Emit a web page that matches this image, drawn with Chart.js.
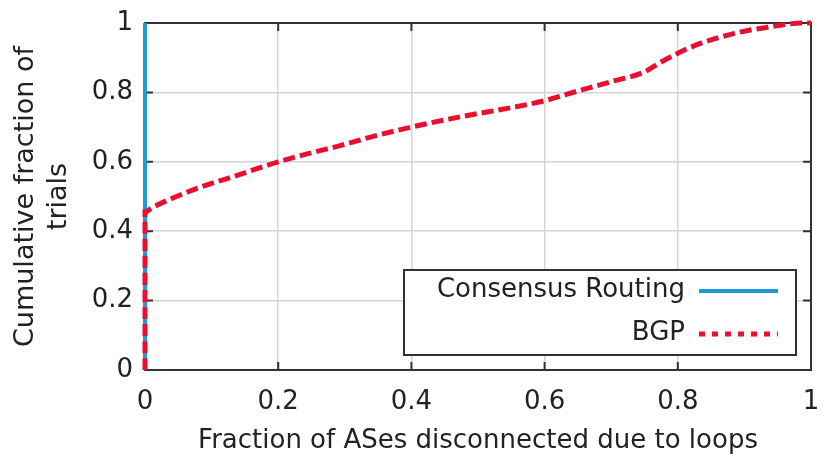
<!DOCTYPE html>
<html>
<head>
<meta charset="utf-8">
<script src="https://cdn.jsdelivr.net/npm/chart.js@4/dist/chart.umd.min.js"></script>
<style>
html,body{margin:0;padding:0;background:#fff;}
#wrap{width:825px;height:458px;}
</style>
</head>
<body>
<div id="wrap"><canvas id="c" width="825" height="458"></canvas></div>
<script>
const xTicks = [0, 0.2, 0.4, 0.6, 0.8, 1];
const yTicks = [0, 0.2, 0.4, 0.6, 0.8, 1];
const xTitle = 'Fraction of ASes disconnected due to loops';
const yTitle = ['Cumulative fraction of', 'trials'];
const seriesNames = ['Consensus Routing', 'BGP'];

const consensusX = [0, 0];
const consensusY = [0, 1];

const bgpX = [0, 0, 0.01, 0.035, 0.085, 0.135, 0.2, 0.25, 0.29, 0.34, 0.4, 0.48, 0.55, 0.6, 0.65, 0.7, 0.75, 0.77, 0.8, 0.835, 0.885, 0.935, 0.99, 1];
const bgpY = [0, 0.455, 0.467, 0.49, 0.528, 0.559, 0.6, 0.626, 0.645, 0.672, 0.70, 0.732, 0.756, 0.776, 0.804, 0.831, 0.859, 0.882, 0.913, 0.942, 0.97, 0.988, 1.0, 1.0];

const BLUE = '#1b9ad6';
const RED = '#e8102e';
const FONT = "'DejaVu Sans', sans-serif";
const FS = 26;

const framePlugin = {
  id: 'frame',
  beforeDatasetsDraw(chart) {
    const {ctx, chartArea: a, scales} = chart;
    ctx.save();
    ctx.strokeStyle = '#333';
    ctx.lineWidth = 2;
    ctx.strokeRect(a.left, a.top, a.right - a.left, a.bottom - a.top);
    const L = 8;
    ctx.beginPath();
    xTicks.forEach(v => {
      const px = scales.x.getPixelForValue(v);
      ctx.moveTo(px, a.bottom); ctx.lineTo(px, a.bottom - L);
      ctx.moveTo(px, a.top); ctx.lineTo(px, a.top + L);
    });
    yTicks.forEach(v => {
      const py = scales.y.getPixelForValue(v);
      ctx.moveTo(a.left, py); ctx.lineTo(a.left + L, py);
      ctx.moveTo(a.right, py); ctx.lineTo(a.right - L, py);
    });
    ctx.stroke();
    ctx.restore();
  },
  afterDatasetsDraw(chart) {
    const {ctx, chartArea: a} = chart;
    const bw = 392, bh = 85;
    const right = a.right - 15, bottom = a.bottom - 15;
    const left = right - bw, top = bottom - bh;
    ctx.save();
    ctx.fillStyle = '#fff';
    ctx.fillRect(left, top, bw, bh);
    ctx.strokeStyle = '#333';
    ctx.lineWidth = 2;
    ctx.strokeRect(left, top, bw, bh);
    ctx.font = FS + 'px ' + FONT;
    ctx.fillStyle = '#222';
    ctx.textAlign = 'right';
    ctx.textBaseline = 'middle';
    const rows = [top + 20, top + 63];
    chart.data.datasets.forEach((ds, i) => {
      const y = rows[i];
      ctx.fillText(ds.label, right - 111, y);
      ctx.beginPath();
      ctx.strokeStyle = ds.borderColor;
      ctx.lineWidth = i === 0 ? 4 : 5;
      ctx.setLineDash(i === 0 ? [] : [6, 7]);
      ctx.moveTo(right - 97, y + 1);
      ctx.lineTo(right - 18, y + 1);
      ctx.stroke();
    });
    ctx.restore();
  }
};

const toPts = (xs, ys) => xs.map((x, i) => ({x: x, y: ys[i]}));

new Chart(document.getElementById('c'), {
  type: 'scatter',
  data: {
    datasets: [
      {
        label: seriesNames[0],
        data: toPts(consensusX, consensusY),
        showLine: true,
        borderColor: BLUE,
        backgroundColor: BLUE,
        borderWidth: 4,
        pointRadius: 0,
        clip: 8,
        order: 1
      },
      {
        label: seriesNames[1],
        data: toPts(bgpX, bgpY),
        showLine: true,
        borderColor: RED,
        backgroundColor: RED,
        borderWidth: 5,
        borderDash: [12, 5],
        pointRadius: 0,
        cubicInterpolationMode: 'monotone',
        clip: 8,
        order: 0
      }
    ]
  },
  options: {
    responsive: false,
    animation: false,
    devicePixelRatio: 1,
    layout: {padding: {top: 23, right: 14, left: 0, bottom: 0}},
    plugins: {legend: {display: false}, tooltip: {enabled: false}},
    scales: {
      x: {
        type: 'linear', min: 0, max: 1,
        afterBuildTicks: s => { s.ticks = xTicks.map(v => ({value: v})); },
        afterFit: s => { s.height = 88; s.paddingLeft = 0; s.paddingRight = 0; },
        grid: {color: '#d4d4d4', lineWidth: 1.5, drawTicks: false},
        border: {display: false},
        ticks: {
          padding: 17,
          color: '#222',
          font: {family: FONT, size: FS},
          callback: v => String(v),
          maxRotation: 0
        },
        title: {display: true, text: xTitle, color: '#222', font: {family: FONT, size: FS}, padding: {top: 0, bottom: 1}}
      },
      y: {
        type: 'linear', min: 0, max: 1,
        afterBuildTicks: s => { s.ticks = yTicks.map(v => ({value: v})); },
        afterFit: s => { s.width = 145; s.paddingTop = 0; s.paddingBottom = 0; },
        grid: {color: '#d4d4d4', lineWidth: 1.5, drawTicks: false},
        border: {display: false},
        ticks: {
          padding: 12,
          color: '#222',
          font: {family: FONT, size: FS},
          callback: v => String(v)
        },
        title: {display: true, text: yTitle, color: '#222', font: {family: FONT, size: 27, lineHeight: 1.22}, padding: {top: 10, bottom: 0}}
      }
    }
  },
  plugins: [framePlugin]
});
</script>
</body>
</html>
